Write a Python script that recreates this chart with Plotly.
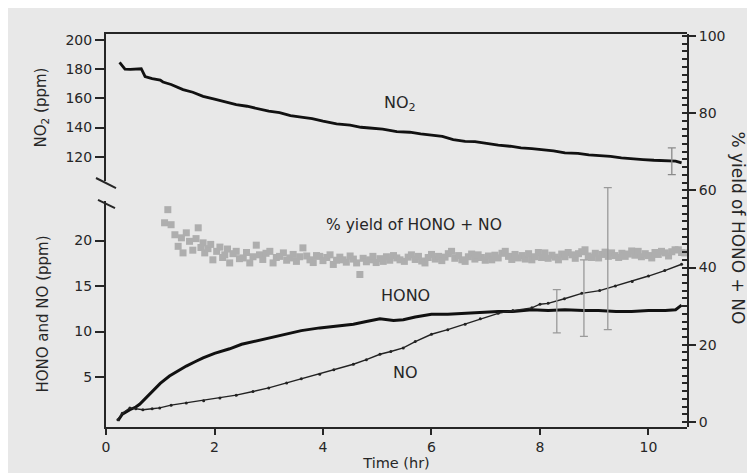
import plotly.graph_objects as go

# ---------------- data ----------------
no2_t = [0.25, 0.35, 0.45, 0.65, 0.72, 0.85, 1.0, 1.05, 1.2, 1.42, 1.6, 1.79, 2.0, 2.2, 2.4, 2.6, 2.8,
         3.0, 3.2, 3.4, 3.63, 3.8, 4.0, 4.25, 4.5, 4.7, 4.86, 5.1, 5.36, 5.6, 5.8, 6.0, 6.2, 6.4, 6.62,
         6.8, 7.0, 7.23, 7.45, 7.65, 7.85, 8.05, 8.25, 8.46, 8.7, 8.9, 9.08, 9.3, 9.5, 9.69, 9.9, 10.1,
         10.31, 10.5, 10.61]
no2_ppm = [184.7, 180.0, 179.8, 180.3, 175.0, 173.5, 172.5, 171.2, 169.5, 166.0, 164.2, 161.4, 159.5,
           157.8, 155.7, 154.6, 152.8, 151.2, 150.3, 148.2, 147.0, 146.1, 144.4, 142.5, 141.6, 140.2,
           139.7, 138.9, 137.2, 136.8, 135.6, 134.7, 133.9, 131.8, 130.6, 130.3, 129.1, 127.9, 127.2,
           126.1, 125.6, 124.8, 124.1, 122.6, 122.3, 121.3, 120.8, 120.3, 119.2, 118.5, 118.1, 117.6,
           117.3, 117.0, 115.8]

hono_t = [0.22, 0.3, 0.44, 0.55, 0.62, 0.75, 0.87, 1.0, 1.17, 1.3, 1.48, 1.65, 1.79, 2.0, 2.28, 2.5,
          2.71, 3.0, 3.33, 3.6, 3.94, 4.2, 4.56, 4.8, 5.05, 5.3, 5.48, 5.7, 6.0, 6.3, 6.62, 6.9, 7.23,
          7.5, 7.85, 8.15, 8.46, 8.8, 9.08, 9.4, 9.69, 10.0, 10.31, 10.5, 10.61]
hono_ppm = [0.2, 0.9, 1.4, 1.7, 2.0, 2.8, 3.6, 4.3, 5.1, 5.6, 6.2, 6.7, 7.1, 7.6, 8.1, 8.6, 8.9, 9.3,
            9.7, 10.1, 10.4, 10.6, 10.8, 11.1, 11.4, 11.2, 11.3, 11.6, 11.9, 11.9, 12.0, 12.1, 12.2,
            12.2, 12.4, 12.3, 12.4, 12.3, 12.3, 12.2, 12.2, 12.3, 12.3, 12.4, 12.9]

no_t = [0.22, 0.3, 0.44, 0.55, 0.68, 0.85, 0.99, 1.2, 1.48, 1.8, 2.1, 2.4, 2.71, 3.0, 3.33, 3.6, 3.94,
        4.2, 4.56, 4.8, 5.05, 5.25, 5.48, 5.7, 6.0, 6.3, 6.62, 6.9, 7.23, 7.5, 7.85, 8.0, 8.15, 8.45,
        8.77, 9.1, 9.39, 9.7, 10.0, 10.3, 10.61]
no_ppm = [0.3, 1.0, 1.6, 1.5, 1.4, 1.5, 1.6, 1.9, 2.15, 2.4, 2.7, 3.0, 3.4, 3.8, 4.35, 4.8, 5.3, 5.8,
          6.4, 6.9, 7.5, 7.8, 8.2, 8.9, 9.7, 10.2, 10.8, 11.4, 12.0, 12.3, 12.6, 13.0, 13.1, 13.6,
          14.2, 14.5, 15.0, 15.5, 16.1, 16.7, 17.4]

yield_t = [1.08, 1.14, 1.20, 1.27, 1.33, 1.39, 1.42, 1.48, 1.54, 1.60, 1.66, 1.70, 1.75, 1.79, 1.82,
           1.88, 1.93, 1.97, 2.04, 2.10, 2.15, 2.19, 2.24, 2.28, 2.34, 2.40, 2.46, 2.53, 2.59, 2.65,
           2.71, 2.77, 2.83, 2.89, 2.95, 3.02, 3.08, 3.14, 3.20, 3.27, 3.33, 3.39, 3.45, 3.51, 3.57,
           3.63, 3.70, 3.76, 3.82, 3.88, 3.94, 4.00, 4.07, 4.13, 4.19, 4.25, 4.31, 4.37, 4.43, 4.50,
           4.56, 4.62, 4.68, 4.74, 4.80, 4.86, 4.92, 4.98, 5.05, 5.11, 5.17, 5.23, 5.30, 5.36, 5.42,
           5.50, 5.57, 5.63, 5.70, 5.76, 5.82, 5.88, 5.94, 6.00, 6.07, 6.13, 6.19, 6.25, 6.31, 6.37,
           6.43, 6.50, 6.56, 6.62, 6.68, 6.74, 6.80, 6.86, 6.92, 6.99, 7.05, 7.11, 7.17, 7.23, 7.30,
           7.36, 7.42, 7.48, 7.54, 7.60, 7.67, 7.73, 7.79, 7.85, 7.91, 7.97, 8.03, 8.09, 8.15, 8.22,
           8.28, 8.34, 8.40, 8.46, 8.52, 8.59, 8.65, 8.71, 8.77, 8.83, 8.89, 8.95, 9.02, 9.08, 9.14,
           9.20, 9.26, 9.32, 9.38, 9.45, 9.51, 9.57, 9.63, 9.69, 9.75, 9.81, 9.87, 9.94, 10.00, 10.06,
           10.12, 10.18, 10.24, 10.31, 10.37, 10.43, 10.49, 10.55, 10.61, 10.67]
yield_pct = [51.6, 55.0, 51.1, 48.5, 45.5, 47.7, 43.8, 49.0, 46.8, 44.5, 47.5, 50.3, 45.2, 46.4, 43.8,
             44.9, 46.0, 42.0, 44.2, 45.3, 42.6, 43.3, 44.8, 41.2, 43.6, 44.2, 42.3, 42.5, 43.9, 41.2,
             42.8, 45.8, 43.3, 42.1, 43.7, 44.2, 41.2, 42.6, 42.9, 43.8, 41.9, 42.5, 43.4, 41.6, 42.8,
             45.1, 43.0, 42.0, 41.3, 43.1, 42.9, 41.8, 42.6, 43.3, 40.8, 41.9, 42.7, 42.0, 41.4, 43.0,
             42.2, 41.2, 38.2, 42.4, 41.5, 42.0, 42.9, 41.3, 42.3, 41.6, 42.8, 41.9, 43.1, 42.5, 42.0,
             41.6, 42.7, 43.3, 42.1, 42.9, 41.7, 41.2, 42.6, 43.4, 42.2, 42.9, 41.8, 42.7, 43.6, 44.2,
             42.4, 43.1, 42.0, 41.6, 42.8, 43.5, 42.2, 43.3, 42.6, 41.9, 43.0, 42.0, 43.2, 42.5, 43.7,
             44.2, 42.9, 42.1, 43.4, 42.5, 43.1, 42.2, 43.6, 42.0, 42.8, 43.9, 42.6, 43.8, 42.4, 43.2,
             42.7, 42.0, 43.5, 42.8, 43.9, 43.3, 42.4, 43.6, 44.1, 44.6, 43.0, 42.6, 43.7, 42.5, 43.4,
             44.0, 42.9, 43.8, 43.1, 42.6, 43.7, 42.9, 43.5, 44.3, 43.2, 44.2, 42.8, 43.6, 43.1, 42.5,
             43.9, 43.4, 44.2, 43.8, 43.0, 44.1, 44.6, 44.6, 43.9, 43.8]

# error bars on the % yield axis (center, half-width)
yerr_t = [8.31, 8.81, 9.25]
yerr_center = [28.7, 32.1, 42.3]
yerr_half = [5.6, 9.9, 18.4]

# error bar on NO2
no2err_t = [10.43]
no2err_center = [116.9]
no2err_half = [9.2]

x_ticks = [0, 2, 4, 6, 8, 10]
no2_ticks = [120, 140, 160, 180, 200]
hono_ticks = [5, 10, 15, 20]
yield_ticks = [0, 20, 40, 60, 80, 100]

# ---------------- figure ----------------
INK = "#262626"
FONT = "DejaVu Sans"
BG = "#e8e8e8"

fig = go.Figure()

fig.add_trace(go.Scatter(x=yield_t, y=yield_pct, xaxis="x", yaxis="y3", mode="markers",
                         marker=dict(symbol="square", size=7, color="#a8a8a8",
                                     line=dict(width=0)), opacity=0.9, showlegend=False))
fig.add_trace(go.Scatter(x=yerr_t, y=yerr_center, xaxis="x", yaxis="y3", mode="markers",
                         marker=dict(size=1, color="rgba(0,0,0,0)"),
                         error_y=dict(type="data", array=yerr_half, color="#9a9a9a",
                                      thickness=1.3, width=4), showlegend=False))
fig.add_trace(go.Scatter(x=no2_t, y=no2_ppm, xaxis="x2", yaxis="y2", mode="lines",
                         line=dict(color="#111", width=2.8), showlegend=False))
fig.add_trace(go.Scatter(x=no2err_t, y=no2err_center, xaxis="x2", yaxis="y2", mode="markers",
                         marker=dict(size=1, color="rgba(0,0,0,0)"),
                         error_y=dict(type="data", array=no2err_half, color="#8a8a8a",
                                      thickness=1.3, width=4), showlegend=False))
fig.add_trace(go.Scatter(x=hono_t, y=hono_ppm, xaxis="x", yaxis="y", mode="lines",
                         line=dict(color="#111", width=3), showlegend=False))
fig.add_trace(go.Scatter(x=no_t, y=no_ppm, xaxis="x", yaxis="y", mode="lines+markers",
                         line=dict(color="#222", width=1.4),
                         marker=dict(size=3, color="#222"), showlegend=False))

axis_common = dict(showgrid=False, zeroline=False, showline=True, linecolor=INK, linewidth=2,
                   ticks="outside", tickcolor=INK, tickwidth=2, ticklen=9,
                   tickfont=dict(family=FONT, size=14, color=INK))

fig.update_layout(
    width=755, height=473,
    margin=dict(l=98, r=76, t=26, b=54),
    paper_bgcolor=BG, plot_bgcolor="rgba(0,0,0,0)",
    font=dict(family=FONT, size=14, color=INK),
    xaxis=dict(axis_common, domain=[0, 1], range=[0, 10.71], anchor="y", tickvals=x_ticks,
               ticklen=6,
               title=dict(text="Time (hr)", font=dict(family=FONT, size=14.5, color=INK),
                          standoff=4)),
    xaxis2=dict(domain=[0, 1], range=[0, 10.71], matches="x", anchor="y2", side="top",
                showline=True, linecolor=INK, linewidth=2, ticks="", showticklabels=False,
                showgrid=False, zeroline=False),
    yaxis=dict(axis_common, domain=[0, 0.575], range=[-0.5, 24.35], anchor="x",
               tickvals=hono_ticks,
               title=dict(text="HONO and NO (ppm)", font=dict(family=FONT, size=15, color=INK),
                          standoff=22)),
    yaxis2=dict(axis_common, domain=[0.626, 1], range=[103.4, 204.1], anchor="x2",
                tickvals=no2_ticks,
                title=dict(text="NO<sub>2</sub> (ppm)", font=dict(family=FONT, size=15, color=INK),
                           standoff=15)),
    yaxis3=dict(axis_common, domain=[0, 1], range=[-1.3, 100.5], anchor="x", side="right",
                tickvals=yield_ticks, ticklen=7,
                minor=dict(dtick=2, ticks="inside", ticklen=5, tickwidth=1.5, tickcolor=INK)),
)

# in-plot labels
LBL = dict(family=FONT, size=16, color=INK)
fig.add_annotation(x=5.42, y=156.2, xref="x2", yref="y2", text="NO<sub>2</sub>", showarrow=False,
                   font=LBL)
fig.add_annotation(x=5.68, y=51.0, xref="x", yref="y3", text="% yield of HONO + NO", showarrow=False,
                   font=dict(family=FONT, size=15.5, color=INK))
fig.add_annotation(x=5.52, y=14.0, xref="x", yref="y", text="HONO", showarrow=False, font=LBL)
fig.add_annotation(x=5.52, y=5.45, xref="x", yref="y", text="NO", showarrow=False, font=LBL)

# right axis title (reads top to bottom)
fig.add_annotation(x=1.108, y=0.506, xref="paper", yref="paper", text="% yield of HONO + NO",
                   textangle=90, showarrow=False, font=dict(family=FONT, size=17, color=INK))

# axis break marks
fig.add_shape(type="line", xref="paper", yref="paper", x0=-0.0172, y0=0.6336, x1=0.0172, y1=0.608,
              line=dict(color=INK, width=2))
fig.add_shape(type="line", xref="paper", yref="paper", x0=-0.0138, y0=0.578, x1=0.0155, y1=0.557,
              line=dict(color=INK, width=2))

fig.write_html("out.html")
